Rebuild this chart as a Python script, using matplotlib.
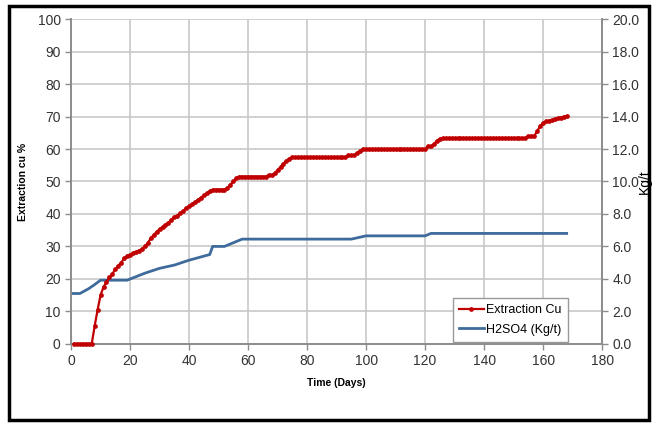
import matplotlib
matplotlib.use("Agg")
import matplotlib.pyplot as plt
from matplotlib.patches import Rectangle

plt.rcParams['font.family'] = ['Liberation Sans', 'DejaVu Sans']

# Extraction Cu (%), one reading per day
days_cu = list(range(1, 169))
extraction_cu = [
    0, 0, 0, 0, 0, 0, 0, 5.5, 10.5, 15.0,                      # 1-10
    17.5, 19.0, 20.5, 21.5, 23.0, 24.0, 25.0, 26.3, 27.0, 27.5,  # 11-20
    28.0, 28.3, 28.7, 29.2, 30.0, 31.0, 32.5, 33.5, 34.5, 35.3,  # 21-30
    36.0, 36.7, 37.3, 38.2, 39.0, 39.5, 40.2, 41.0, 41.7, 42.3,  # 31-40
    43.0, 43.7, 44.3, 45.0, 45.7, 46.3, 47.0, 47.5, 47.5, 47.5,  # 41-50
    47.5, 47.5, 48.0, 49.0, 50.0, 51.0, 51.5, 51.5, 51.5, 51.5,  # 51-60
    51.5, 51.5, 51.5, 51.5, 51.5, 51.5, 52.0, 52.0, 52.5, 53.5,  # 61-70
    54.5, 55.5, 56.3, 57.0, 57.5, 57.5, 57.5, 57.5, 57.5, 57.5,  # 71-80
    57.5, 57.5, 57.5, 57.5, 57.5, 57.5, 57.5, 57.5, 57.5, 57.5,  # 81-90
    57.5, 57.5, 57.5, 58.0, 58.0, 58.0, 58.8, 59.5, 60.0, 60.0,  # 91-100
    60.0, 60.0, 60.0, 60.0, 60.0, 60.0, 60.0, 60.0, 60.0, 60.0,  # 101-110
    60.0, 60.0, 60.0, 60.0, 60.0, 60.0, 60.0, 60.0, 60.0, 60.0,  # 111-120
    60.8, 60.8, 61.5, 62.5, 63.2, 63.3, 63.3, 63.3, 63.3, 63.3,  # 121-130
    63.3, 63.3, 63.3, 63.3, 63.3, 63.3, 63.3, 63.3, 63.3, 63.3,  # 131-140
    63.3, 63.3, 63.3, 63.3, 63.3, 63.3, 63.3, 63.3, 63.3, 63.3,  # 141-150
    63.3, 63.3, 63.3, 63.3, 64.0, 64.0, 64.0, 65.5, 67.0, 68.0,  # 151-160
    68.5, 68.7, 69.0, 69.3, 69.5, 69.7, 70.0, 70.1,              # 161-168
]

# H2SO4 consumption (kg/t)
days_acid = [0, 3, 6, 8, 10, 19, 25, 30, 35, 40, 47, 48, 52, 58, 95, 100, 120, 122, 168]
h2so4 = [3.1, 3.1, 3.4, 3.65, 3.92, 3.92, 4.35, 4.65, 4.85, 5.15, 5.5, 6.0, 6.0, 6.45, 6.45, 6.65, 6.65, 6.8, 6.8]

red = '#C00000'
blue = '#3F6B9C'
grid_c = '#C8C8C8'
spine_c = '#8C8C8C'

fig = plt.figure(figsize=(6.58, 4.25), dpi=100)
ax = fig.add_axes([0.108, 0.191, 0.807, 0.764])
ax2 = ax.twinx()

l2, = ax2.plot(days_acid, h2so4, color=blue, lw=2.0, label='H2SO4 (Kg/t)')
ax2.set_zorder(1)
ax.set_zorder(2)
ax.patch.set_visible(False)
l1, = ax.plot(days_cu, extraction_cu, color=red, lw=1.6, marker='o', ms=2.4,
              mec=red, mfc=red, label='Extraction Cu', clip_on=False, zorder=5)

ax.set_xlim(0, 180)
ax.set_ylim(0, 100)
ax2.set_ylim(0, 20)
ax.set_xticks(range(0, 181, 20))
ax.set_yticks(range(0, 101, 10))
ax2.set_yticks(range(0, 21, 2))
ax2.set_yticklabels(['%.1f' % v for v in range(0, 21, 2)])

ax2.set_xlim(0, 180)
ax2.grid(False)
ax.grid(True, color=grid_c, lw=1.2, zorder=0)
# draw grid behind the acid line too
for x in range(20, 181, 20):
    ax2.axvline(x * 1.0, color=grid_c, lw=1.2, zorder=0)
for y in range(2, 21, 2):
    ax2.axhline(y, color=grid_c, lw=1.2, zorder=0)
ax.grid(False)

for a in (ax, ax2):
    a.spines['top'].set_visible(False)
    for s in ('left', 'right', 'bottom'):
        a.spines[s].set_color(spine_c)
        a.spines[s].set_linewidth(1.2)
    a.tick_params(colors=spine_c, labelcolor='#333333', labelsize=10, length=4, width=1)

ax.set_xlabel('Time (Days)', fontsize=7.5, fontweight='bold', labelpad=7)
ax.set_ylabel('Extraction cu %', fontsize=7.5, fontweight='bold', labelpad=7)
ax2.set_ylabel('Kg/t', fontsize=10)
ax2.yaxis.set_label_coords(1.068, 0.5)

leg = ax.legend(handles=[l1, l2], loc='center', bbox_to_anchor=(0.827, 0.074),
                fontsize=9, fancybox=False, framealpha=1, edgecolor='#999999',
                handlelength=2.0, handletextpad=0.2, borderpad=0.5, labelspacing=0.6)
leg.get_frame().set_linewidth(1.0)
leg.set_zorder(10)

fig.patches.append(Rectangle((0.014, 0.012), 0.972, 0.975, transform=fig.transFigure,
                             fill=False, edgecolor='black', lw=2.5))

fig.savefig('out.png', dpi=100)
